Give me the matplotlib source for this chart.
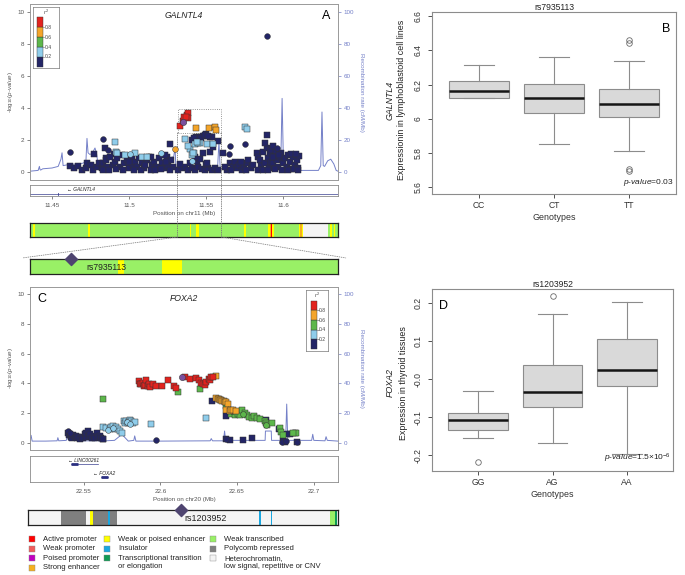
import numpy as np
import matplotlib.pyplot as plt
from matplotlib.patches import Rectangle, ConnectionPatch

plt.rcParams['font.family'] = ['Liberation Sans', 'DejaVu Sans']
plt.rcParams['mathtext.fontset'] = 'custom'
plt.rcParams['mathtext.it'] = 'Liberation Sans:italic'
plt.rcParams['mathtext.rm'] = 'Liberation Sans'

# ============================================================
# DATA - panel A (GALNTL4, chr11)
# ============================================================
a_navy_x = [11.4617, 11.4643, 11.4671, 11.4693, 11.4721, 11.4729, 11.4751, 11.4768, 11.4790, 11.4807,
            11.4773, 11.4844, 11.4850, 11.4903,
            11.4823, 11.4833, 11.4851, 11.4859, 11.4877, 11.4894, 11.4909, 11.4924, 11.4942, 11.4952,
            11.4968, 11.4985, 11.5002, 11.5017, 11.5024, 11.5039, 11.5050, 11.5067, 11.5082, 11.5097,
            11.5115, 11.5132, 11.5147, 11.5162, 11.5180, 11.5197, 11.5212, 11.5227, 11.5245, 11.5255,
            11.5271, 11.5284, 11.4830, 11.4870, 11.4915, 11.4960, 11.5000, 11.5030, 11.5075, 11.5105,
            11.5140, 11.5170, 11.5205, 11.5240, 11.5265, 11.5266, 11.5236, 11.5145,
            11.5320, 11.5342, 11.5364, 11.5385, 11.5407, 11.5429, 11.5450, 11.5472, 11.5494, 11.5515,
            11.5537, 11.5558, 11.5580, 11.5330, 11.5395, 11.5440, 11.5500, 11.5461, 11.5505, 11.5427,
            11.5483, 11.5525, 11.5545,
            11.5407, 11.5433, 11.5455, 11.5481, 11.5503, 11.5524, 11.5541, 11.5580, 11.5420, 11.5470,
            11.5492, 11.5515,
            11.5613, 11.5634, 11.5656, 11.5677, 11.5690, 11.5703, 11.5716, 11.5732, 11.5747, 11.5764,
            11.5775, 11.5790, 11.5807, 11.5620, 11.5665, 11.5725, 11.5760,
            11.5829, 11.5840, 11.5851, 11.5860, 11.5872, 11.5880, 11.5894, 11.5900, 11.5910, 11.5916,
            11.5925, 11.5937, 11.5945, 11.5959, 11.5970, 11.5981, 11.5990, 11.6002, 11.6012, 11.6024,
            11.6035, 11.6045, 11.6055, 11.6067, 11.6078, 11.6089, 11.6100, 11.6105, 11.5835, 11.5870,
            11.5905, 11.5950, 11.5995, 11.6030, 11.6070, 11.6095, 11.5898, 11.5885, 11.5920, 11.5955,
            11.5935, 11.5975, 11.6050, 11.6085, 11.5937]
a_navy_y = [0.40, 0.23, 0.40, 0.12, 0.23, 0.54, 0.44, 0.12, 0.33, 0.54,
            1.13, 1.48, 0.85, 1.10,
            0.23, 0.54, 0.75, 0.33, 0.96, 0.44, 0.65, 0.85, 0.33, 1.06,
            0.54, 0.75, 0.23, 0.96, 0.44, 0.65, 0.33, 0.85, 0.54, 0.23,
            0.75, 0.96, 0.44, 0.65, 0.33, 0.85, 0.54, 0.23, 0.96, 0.40,
            0.75, 0.33, 0.12, 0.15, 0.18, 0.12, 0.60, 0.15, 0.12, 0.45,
            0.15, 0.12, 0.20, 0.60, 0.12, 1.75, 1.06, 0.96,
            0.12, 0.23, 0.33, 0.10, 0.23, 0.12, 0.33, 0.17, 0.10, 0.27,
            0.12, 0.23, 0.10, 0.50, 0.55, 0.70, 0.50, 0.79, 0.54, 0.96,
            1.17, 1.27, 1.58,
            2.00, 2.17, 2.21, 2.25, 2.35, 2.21, 2.17, 1.96, 2.10, 2.10,
            2.30, 2.28,
            1.21, 0.12, 0.54, 0.33, 0.65, 0.23, 0.44, 0.12, 0.33, 0.54,
            0.75, 0.23, 0.44, 0.30, 0.15, 0.60, 0.15,
            1.17, 0.96, 0.75, 0.35, 1.27, 0.54, 1.48, 0.85, 0.23, 1.17,
            0.65, 0.54, 1.06, 0.75, 0.33, 0.96, 1.17, 0.54, 0.85, 0.33,
            1.06, 0.65, 0.17, 0.96, 0.44, 0.75, 0.23, 1.00, 0.12, 0.12,
            0.12, 0.17, 0.12, 0.12, 0.17, 0.12, 2.31, 1.80, 1.40, 1.30,
            0.95, 1.05, 1.10, 1.10, 1.65]
a_navy_circ_x = [11.4615, 11.4829, 11.4866, 11.5894, 11.5656, 11.5753, 11.5650, 11.5960]
a_navy_circ_y = [1.27, 2.06, 1.38, 8.52, 1.65, 1.75, 1.10, 1.50]
a_lblue_x = [11.4907, 11.4916, 11.4924, 11.4972, 11.5041, 11.5084, 11.5117, 11.5364, 11.5396, 11.5429,
             11.5461, 11.5504, 11.5548, 11.5424, 11.5407, 11.5418, 11.5450, 11.5753, 11.5764, 11.5380,
             11.5440]
a_lblue_y = [1.85, 1.27, 1.20, 1.06, 1.19, 0.96, 0.96, 2.04, 1.42, 1.75,
             1.79, 1.75, 1.75, 1.21, 1.06, 1.17, 1.79, 2.79, 2.67, 1.60,
             1.90]
a_lblue_circ_x = [11.5006, 11.5210, 11.5407]
a_lblue_circ_y = [1.10, 1.17, 0.70]
a_orange_x = [11.5435, 11.5522, 11.5558, 11.5565]
a_orange_y = [2.77, 2.77, 2.83, 2.63]
a_orange_circ_x = [11.5301]
a_orange_circ_y = [1.44]
a_red_x = [11.5331, 11.5348, 11.5359, 11.5374, 11.5381, 11.5385, 11.5370]
a_red_y = [2.88, 3.21, 3.42, 3.56, 3.67, 3.35, 3.45]
a_index_x, a_index_y = 11.5353, 3.15
a_rec_x = [11.4357, 11.4410, 11.4418, 11.4422, 11.4426, 11.4440, 11.4500, 11.4540, 11.4558, 11.4565,
           11.4572, 11.4600, 11.4660, 11.4700, 11.4720, 11.4727, 11.4734, 11.4745, 11.4760, 11.4779,
           11.4790, 11.4800, 11.4820, 11.4900, 11.5000, 11.5100, 11.5200, 11.5290, 11.5299, 11.5305,
           11.5400, 11.5500, 11.5575, 11.5584, 11.5592, 11.5700, 11.5900, 11.5975, 11.5985, 11.5994,
           11.6003, 11.6015, 11.6100, 11.6230, 11.6245, 11.6253, 11.6261, 11.6270, 11.6290, 11.6310,
           11.6330, 11.6345, 11.6357]
a_rec_y = [0.5, 1.0, 3.5, 1.5, 1.2, 2.0, 2.5, 3.5, 8.0, 12.0,
           4.0, 4.5, 5.0, 5.5, 6.5, 21.0, 12.0, 11.0, 11.5, 15.0,
           11.0, 4.0, 3.5, 4.0, 5.0, 6.0, 7.5, 9.5, 15.0, 1.5,
           1.5, 2.0, 2.5, 19.0, 2.0, 1.5, 1.0, 1.5, 4.0, 46.0,
           4.0, 1.0, 1.0, 1.0, 4.0, 37.5, 4.0, 3.5, 7.0, 8.0,
           5.0, 1.0, 0.5]
a_xlim = (11.4357, 11.6357)
a_zoom = (11.5315, 11.5600)
a_box_y = (2.44, 3.94)
a_gene = ['GALNTL4']
a_gene_start = [11.29]
a_gene_end = [11.643]
a_gene_label_x = [11.4597]
a_gene_exons = [11.4539]
# chromatin states, chr11
a_state_start = [11.4375, 11.4735, 11.5218, 11.5396, 11.5437, 11.5748, 11.5905, 11.5916, 11.5921,
                 11.6105, 11.6110, 11.6114, 11.6130, 11.6305, 11.6330]
a_state_end = [11.4388, 11.4745, 11.5222, 11.5402, 11.5456, 11.5758, 11.5940, 11.5930, 11.5926,
               11.6128, 11.6120, 11.6117, 11.6290, 11.6318, 11.6338]
a_state = ['Weak or poised enhancer', 'Weak or poised enhancer', 'Insulator', 'Weak or poised enhancer',
           'Weak or poised enhancer', 'Weak or poised enhancer', 'Weak or poised enhancer',
           'Strong enhancer', 'Active promoter', 'Weak or poised enhancer', 'Strong enhancer',
           'Active promoter', 'Heterochromatin', 'Weak or poised enhancer', 'Weak or poised enhancer']

# ============================================================
# DATA - panel C (FOXA2, chr20)
# ============================================================
c_navy_x = [22.5398, 22.5403, 22.5409, 22.5415, 22.5420, 22.5425, 22.5430, 22.5440, 22.5448, 22.5455,
            22.5463, 22.5475, 22.5485, 22.5495, 22.5507, 22.5512, 22.5517, 22.5528, 22.5533, 22.5539,
            22.5550, 22.5565, 22.5575, 22.5583, 22.5595, 22.5604, 22.5615, 22.5622, 22.5626,
            22.6339, 22.6430, 22.6430, 22.6452, 22.6539, 22.6600, 22.6688, 22.6773, 22.6813, 22.6845,
            22.6877, 22.6892, 22.6800, 22.6825]
c_navy_y = [0.67, 0.49, 0.56, 0.40, 0.45, 0.33, 0.49, 0.40, 0.45, 0.33,
            0.40, 0.27, 0.40, 0.33, 0.56, 0.40, 0.67, 0.78, 0.45, 0.56,
            0.33, 0.45, 0.33, 0.67, 0.40, 0.45, 0.33, 0.27, 0.22,
            2.79, 1.79, 0.22, 0.17, 0.17, 0.29, 1.52, 0.94, 0.05, 0.56,
            0.67, 0.04, 0.10, 0.60]
c_navy_circ_x = [22.5398, 22.5410, 22.5974, 22.6426, 22.6795, 22.6821, 22.6891]
c_navy_circ_y = [0.75, 0.62, 0.18, 0.27, 0.04, 0.10, 0.04]
c_lblue_x = [22.5626, 22.5643, 22.5669, 22.5680, 22.5691, 22.5700, 22.5709, 22.5724, 22.5739, 22.5746,
             22.5761, 22.5770, 22.5778, 22.5787, 22.5796, 22.5803, 22.5811, 22.5822, 22.5832, 22.5941,
             22.6295]
c_lblue_y = [1.07, 1.00, 0.94, 1.05, 1.12, 0.90, 1.05, 0.89, 0.78, 0.63,
             1.45, 1.35, 1.45, 1.30, 1.38, 1.50, 1.45, 1.29, 1.38, 1.23,
             1.63]
c_lblue_circ_x = [22.5655, 22.5690, 22.5780, 22.5800]
c_lblue_circ_y = [0.85, 1.00, 1.40, 1.25]
c_green_x = [22.5626, 22.6115, 22.6256, 22.6426, 22.6463, 22.6485, 22.6508, 22.6523, 22.6536, 22.6552,
             22.6563, 22.6580, 22.6595, 22.6610, 22.6628, 22.6649, 22.6682, 22.6688, 22.6693, 22.6732,
             22.6780, 22.6789, 22.6800, 22.6887, 22.6865]
c_green_y = [2.95, 3.41, 3.64, 2.50, 1.90, 1.85, 1.96, 1.83, 2.23, 2.00,
             1.83, 1.74, 1.67, 1.79, 1.67, 1.56, 1.45, 1.30, 1.16, 1.29,
             0.99, 0.71, 0.49, 0.67, 0.62]
c_green_circ_x = [22.6470, 22.6540, 22.6690]
c_green_circ_y = [2.10, 1.95, 1.20]
c_orange_x = [22.6360, 22.6365, 22.6375, 22.6382, 22.6390, 22.6397, 22.6405, 22.6413, 22.6420, 22.6430,
              22.6441, 22.6426, 22.6452, 22.6462, 22.6473, 22.6491]
c_orange_y = [4.51, 3.01, 2.95, 2.95, 2.90, 2.86, 2.80, 2.79, 2.75, 2.72,
              2.63, 2.19, 2.12, 2.19, 2.19, 2.12]
c_red_x = [22.5861, 22.5868, 22.5876, 22.5885, 22.5891, 22.5900, 22.5909, 22.5919, 22.5928, 22.5935,
           22.5952, 22.5974, 22.6011, 22.6050, 22.6087, 22.6100, 22.6158, 22.6195, 22.6234, 22.6252,
           22.6267, 22.6280, 22.6289, 22.6300, 22.6317, 22.6325, 22.6332, 22.6343]
c_red_y = [4.13, 3.95, 3.97, 4.05, 3.84, 3.90, 4.24, 3.84, 3.95, 3.75,
           3.97, 3.84, 3.84, 4.20, 3.84, 3.68, 4.40, 4.29, 4.33, 4.20,
           4.02, 3.95, 3.90, 4.10, 4.29, 4.20, 4.40, 4.46]
c_index_x, c_index_y = 22.6139, 4.40
c_rec_x = [22.5148, 22.5155, 22.5162, 22.5250, 22.5325, 22.5330, 22.5336, 22.5385, 22.5392, 22.5400,
           22.5450, 22.5454, 22.5460, 22.5585, 22.5591, 22.5597, 22.5700, 22.5742, 22.5748, 22.5790,
           22.5826, 22.5832, 22.5840, 22.6000, 22.6325, 22.6332, 22.6340, 22.6412, 22.6419, 22.6426,
           22.6500, 22.6684, 22.6686, 22.6724, 22.6726, 22.6818, 22.6825, 22.6832, 22.6900, 22.6988,
           22.6995, 22.7002, 22.7075, 22.7082, 22.7090, 22.7160]
c_rec_y = [1.0, 4.9, 1.0, 1.0, 1.2, 3.3, 1.2, 1.5, 4.5, 1.5,
           1.5, 2.7, 1.2, 1.2, 2.0, 1.0, 1.5, 5.0, 5.6, 1.0,
           1.5, 4.5, 1.0, 1.0, 1.2, 2.7, 1.2, 1.2, 7.8, 1.5,
           1.5, 1.5, 7.8, 7.8, 1.5, 1.5, 26.0, 1.5, 1.5, 1.5,
           5.6, 1.5, 1.2, 4.0, 1.5, 1.0]
c_xlim = (22.5148, 22.7160)
c_genes = ['LINC00261', 'FOXA2']
c_gene_start = [22.5413, 22.5615]
c_gene_thick_end = [22.5463, 22.5658]
c_gene_end = [22.5593, 22.5658]
c_gene_label_x = [22.5396, 22.5559]
c_state_start = [22.5363, 22.5550, 22.5572, 22.5666, 22.6650, 22.6724, 22.7110, 22.7141]
c_state_end = [22.5526, 22.5567, 22.5724, 22.5680, 22.6658, 22.6732, 22.7141, 22.7155]
c_state = ['Polycomb repressed', 'Weak or poised enhancer', 'Polycomb repressed', 'Insulator',
           'Insulator', 'Insulator', 'Weak transcribed', 'Transcriptional transition']

# ============================================================
# DATA - boxplots B and D
# ============================================================
b_geno = ['CC', 'CT', 'TT']
b_q1 = [6.121, 6.037, 6.011]
b_med = [6.161, 6.125, 6.089]
b_q3 = [6.221, 6.207, 6.175]
b_lo = [6.121, 5.856, 5.810]
b_hi = [6.313, 6.364, 6.337]
b_out = [[], [], [6.445, 6.462, 5.695, 5.705]]

d_geno = ['GG', 'AG', 'AA']
d_q1 = [-0.133, -0.072, -0.019]
d_med = [-0.107, -0.035, 0.024]
d_q3 = [-0.090, 0.038, 0.107]
d_lo = [-0.154, -0.169, -0.197]
d_hi = [-0.032, 0.173, 0.204]
d_out = [[-0.218], [0.218], []]

# ============================================================
# STYLE
# ============================================================
r2_cols = ['#232566', '#8FCDEB', '#5DB74B', '#F4A52A', '#E2231E']
index_col = '#7A4F9E'
rec_col = '#7480C8'
frame_col = '#9A9A9A'
state_names = ['Active promoter', 'Weak promoter', 'Poised promoter', 'Strong enhancer',
               'Weak or poised enhancer', 'Insulator', 'Transcriptional transition',
               'Weak transcribed', 'Polycomb repressed', 'Heterochromatin']
state_cols = ['#FF0000', '#F25C5C', '#C000C0', '#F5B01E', '#FFFF00', '#1AA7E0', '#109A55',
              '#99F066', '#7F7F7F', '#F4F4F4']
state_key = ['Active promoter', 'Weak promoter', 'Poised promoter', 'Strong enhancer',
             'Weak or poised enhancer', 'Insulator', 'Transcriptional transition\nor elongation',
             'Weak transcribed', 'Polycomb repressed', 'Heterochromatin,\nlow signal, repetitive or CNV']
state_color = dict(zip(state_names, state_cols))

W, H = 685, 575
fig = plt.figure(figsize=(W / 100, H / 100), dpi=100)


def px_box(l, t, r, b):
    return [l / W, 1 - b / H, (r - l) / W, (b - t) / H]


def style_frame(ax, col=frame_col, lw=0.6):
    for s in ax.spines.values():
        s.set_color(col)
        s.set_linewidth(lw)


def locus(ax, groups, index_xy, rec_x, rec_y, xlim, title, title_y):
    ax2 = ax.twinx()
    ax2.plot(rec_x, rec_y, color=rec_col, lw=0.7)
    ax2.set_ylim(-5, 105)
    ax2.set_yticks([0, 20, 40, 60, 80, 100])
    ax2.tick_params(axis='y', labelsize=4.5, colors=rec_col, length=2, width=0.5, pad=2)
    ax2.set_ylabel('Recombination rate (cM/Mb)', fontsize=4.5, color=rec_col, rotation=270, labelpad=7)
    ax.set_zorder(ax2.get_zorder() + 1)
    ax.patch.set_visible(False)
    for gx, gy, mk, col in groups:
        ax.scatter(gx, gy, s=17, marker=mk, c=col, edgecolors='#333333', linewidths=0.35, zorder=3)
    ax.scatter([index_xy[0]], [index_xy[1]], s=20, marker='o', c=index_col,
               edgecolors='#333333', linewidths=0.35, zorder=4)
    ax.set_xlim(xlim)
    ax2.set_xlim(xlim)
    ax.set_ylim(-0.5, 10.5)
    ax.set_yticks([0, 2, 4, 6, 8, 10])
    ax.set_xticks([])
    ax.tick_params(axis='y', labelsize=4.5, colors='#555555', length=2, width=0.5, pad=2)
    ax.set_ylabel(r'-log$_{10}$($\it{p}$-$\it{value}$)', fontsize=4.5, color='#555555', labelpad=2)
    ax.text(0.5, title_y, title, transform=ax.transAxes, fontsize=6.2, style='italic',
            ha='center', va='center', color='#222222')
    style_frame(ax)
    style_frame(ax2)


def r2_key(ax):
    ax.set_xlim(0, 1)
    ax.set_ylim(0, 1)
    ax.set_xticks([])
    ax.set_yticks([])
    style_frame(ax, '#777777', 0.5)


def draw_states(ax, starts, ends, states, background, xlim):
    ax.axvspan(xlim[0], xlim[1], color=state_color[background], lw=0)
    for s, e, st in zip(starts, ends, states):
        ax.axvspan(s, e, color=state_color[st], lw=0)
    ax.set_xlim(xlim)
    ax.set_ylim(0, 1)
    ax.set_xticks([])
    ax.set_yticks([])
    style_frame(ax, '#222222', 0.9)


# ============================================================
# PANEL A
# ============================================================
axA = fig.add_axes(px_box(30, 4, 338, 180))
groups_a = [(a_navy_x, a_navy_y, 's', r2_cols[0]), (a_navy_circ_x, a_navy_circ_y, 'o', r2_cols[0]),
            (a_lblue_x, a_lblue_y, 's', r2_cols[1]), (a_lblue_circ_x, a_lblue_circ_y, 'o', r2_cols[1]),
            (a_orange_x, a_orange_y, 's', r2_cols[3]), (a_orange_circ_x, a_orange_circ_y, 'o', r2_cols[3]),
            (a_red_x, a_red_y, 's', r2_cols[4])]
locus(axA, groups_a, (a_index_x, a_index_y), a_rec_x, a_rec_y, a_xlim, 'GALNTL4', 0.935)
axA.add_patch(Rectangle((a_zoom[0], a_box_y[0]), a_zoom[1] - a_zoom[0], a_box_y[1] - a_box_y[0],
                        fill=False, ls=':', lw=0.6, ec='#777777', zorder=2))
axA.text(0.975, 0.965, 'A', transform=axA.transAxes, ha='right', va='top', fontsize=9)

keyA = fig.add_axes(px_box(33, 7, 59, 68))
r2_key(keyA)
keyA.bar([0.255] * 5, [0.162] * 5, bottom=[0.02 + 0.162 * i for i in range(5)], width=0.23,
         color=r2_cols, edgecolor='#333333', linewidth=0.3)
for i, lab in enumerate(['0.2', '0.4', '0.6', '0.8']):
    yy = 0.02 + 0.162 * (i + 1)
    keyA.plot([0.37, 0.42], [yy, yy], color='#555555', lw=0.4)
    keyA.text(0.45, yy, lab, fontsize=3.6, va='center', color='#444444')
keyA.text(0.5, 0.92, r'$\it{r}^2$', fontsize=4, ha='center', va='center', color='#444444')

geneA = fig.add_axes(px_box(30, 185, 338, 196))
geneA.set_xlim(a_xlim)
geneA.set_ylim(0, 1)
geneA.set_yticks([])
style_frame(geneA, '#8A8A8A', 0.6)
for g, s, e, lx in zip(a_gene, a_gene_start, a_gene_end, a_gene_label_x):
    geneA.plot([s, e], [0.15, 0.15], color='#3A3F8F', lw=0.5)
    geneA.text(lx, 0.6, '\u2190 ' + g, fontsize=3.5, style='italic', va='center', color='#222222')
for ex in a_gene_exons:
    geneA.plot([ex, ex], [0.05, 0.3], color='#3A3F8F', lw=0.6)
geneA.set_xticks([11.45, 11.5, 11.55, 11.6])
geneA.set_xticklabels(['11.45', '11.5', '11.55', '11.6'])
geneA.tick_params(axis='x', labelsize=4.5, colors='#555555', length=2, width=0.5, pad=3)
geneA.set_xlabel('Position on chr11 (Mb)', fontsize=4.5, color='#555555', labelpad=2)

barA = fig.add_axes(px_box(30, 223, 338, 237))
draw_states(barA, a_state_start, a_state_end, a_state, 'Weak transcribed', a_xlim)

zoomA = fig.add_axes(px_box(30, 259, 338, 274))
draw_states(zoomA, a_state_start, a_state_end, a_state, 'Weak transcribed', a_zoom)
zoomA.scatter([a_index_x], [1.0], marker='D', s=38, c='#4E4470', zorder=5, clip_on=False)
zoomA.text(a_index_x + 0.0014, 0.45, 'rs7935113', fontsize=6.2, va='center', color='#222222')

for xv in a_zoom:
    fig.add_artist(ConnectionPatch(xyA=(xv, a_box_y[0]), coordsA=axA.transData,
                                   xyB=(xv, 0), coordsB=barA.transData,
                                   ls=':', lw=0.6, color='#777777'))
fig.add_artist(ConnectionPatch(xyA=(a_zoom[0], 0), coordsA=barA.transData,
                               xyB=(-0.025, 1.07), coordsB=zoomA.transAxes,
                               ls=':', lw=0.6, color='#888888'))
fig.add_artist(ConnectionPatch(xyA=(a_zoom[1], 0), coordsA=barA.transData,
                               xyB=(1.025, 1.07), coordsB=zoomA.transAxes,
                               ls=':', lw=0.6, color='#888888'))

# ============================================================
# PANEL C
# ============================================================
axC = fig.add_axes(px_box(30, 287, 338, 450))
groups_c = [(c_navy_x, c_navy_y, 's', r2_cols[0]), (c_navy_circ_x, c_navy_circ_y, 'o', r2_cols[0]),
            (c_lblue_x, c_lblue_y, 's', r2_cols[1]), (c_lblue_circ_x, c_lblue_circ_y, 'o', r2_cols[1]),
            (c_green_x, c_green_y, 's', r2_cols[2]), (c_green_circ_x, c_green_circ_y, 'o', r2_cols[2]),
            (c_orange_x, c_orange_y, 's', r2_cols[3]), (c_red_x, c_red_y, 's', r2_cols[4])]
locus(axC, groups_c, (c_index_x, c_index_y), c_rec_x, c_rec_y, c_xlim, 'FOXA2', 0.93)
axC.text(0.025, 0.965, 'C', transform=axC.transAxes, ha='left', va='top', fontsize=9)

keyC = fig.add_axes(px_box(306, 290, 328, 351))
r2_key(keyC)
keyC.bar([0.36] * 5, [0.156] * 5, bottom=[0.04 + 0.156 * i for i in range(5)], width=0.3,
         color=r2_cols, edgecolor='#333333', linewidth=0.3)
for i, lab in enumerate(['0.2', '0.4', '0.6', '0.8']):
    yy = 0.04 + 0.156 * (i + 1)
    keyC.plot([0.51, 0.58], [yy, yy], color='#555555', lw=0.4)
    keyC.text(0.6, yy, lab, fontsize=3.6, va='center', color='#444444')
keyC.text(0.5, 0.92, r'$\it{r}^2$', fontsize=4, ha='center', va='center', color='#444444')

geneC = fig.add_axes(px_box(30, 456, 338, 482))
geneC.set_xlim(c_xlim)
geneC.set_ylim(0, 1)
geneC.set_yticks([])
style_frame(geneC, '#8A8A8A', 0.6)
for i, (g, s, te, e, lx) in enumerate(zip(c_genes, c_gene_start, c_gene_thick_end, c_gene_end,
                                          c_gene_label_x)):
    yb = [0.68, 0.19][i]
    geneC.plot([s, e], [yb, yb], color='#3A3F8F', lw=0.5)
    geneC.plot([s, te], [yb, yb], color='#2A2F80', lw=2.0, solid_capstyle='butt')
    geneC.text(lx, yb + 0.14, '\u2190 ' + g, fontsize=3.5, style='italic', va='center', color='#222222')
geneC.set_xticks([22.55, 22.6, 22.65, 22.7])
geneC.set_xticklabels(['22.55', '22.6', '22.65', '22.7'])
geneC.tick_params(axis='x', labelsize=4.5, colors='#555555', length=2, width=0.5, pad=3)
geneC.set_xlabel('Position on chr20 (Mb)', fontsize=4.5, color='#555555', labelpad=2)

barC = fig.add_axes(px_box(28, 510, 338, 525))
draw_states(barC, c_state_start, c_state_end, c_state, 'Heterochromatin', c_xlim)
barC.scatter([c_index_x], [1.0], marker='D', s=38, c='#4E4470', zorder=5, clip_on=False)
barC.text(c_index_x + 0.0026, 0.42, 'rs1203952', fontsize=6.4, va='center', color='#222222')

# chromatin state key
axK = fig.add_axes(px_box(25, 533, 345, 575))
axK.set_xlim(25, 345)
axK.set_ylim(575, 533)
axK.axis('off')
key_col = [0, 0, 0, 0, 1, 1, 1, 2, 2, 2]
key_row = [0, 1, 2, 3, 0, 1, 2, 0, 1, 2]
col_x = [32, 107, 213]
row_y = [539, 548.5, 558, 567.5]
for name, lab, kc, kr in zip(state_names, state_key, key_col, key_row):
    x0, y0 = col_x[kc], row_y[kr]
    axK.add_patch(Rectangle((x0 - 3, y0 - 3), 6, 6, fc=state_color[name], ec='#888888', lw=0.3))
    axK.text(x0 + 11, y0 - 3.4, lab, fontsize=5.5, va='top', ha='left', color='#222222',
             linespacing=1.2)

# ============================================================
# BOXPLOTS
# ============================================================


def boxpanel(ax, q1, med, q3, lo, hi, out, labels, ylim, yticks, yticklabels):
    stats = [dict(q1=a, med=m, q3=b, whislo=l, whishi=h, fliers=f)
             for a, m, b, l, h, f in zip(q1, med, q3, lo, hi, out)]
    ax.bxp(stats, positions=[1, 2, 3], widths=0.8, patch_artist=True,
           boxprops=dict(facecolor='#D9D9D9', edgecolor='#8C8C8C', linewidth=0.8),
           medianprops=dict(color='#151515', linewidth=1.8),
           whiskerprops=dict(color='#8C8C8C', linewidth=0.8),
           capprops=dict(color='#8C8C8C', linewidth=0.8),
           flierprops=dict(marker='o', markerfacecolor='none', markeredgecolor='#6A6A6A',
                           markersize=4, markeredgewidth=0.6))
    ax.set_xlim(0.38, 3.62)
    ax.set_ylim(ylim)
    ax.set_xticks([1, 2, 3])
    ax.set_xticklabels(labels)
    ax.set_yticks(yticks)
    ax.set_yticklabels(yticklabels, rotation=90, va='center')
    ax.tick_params(labelsize=6.2, colors='#333333', length=3, width=0.6)
    ax.tick_params(axis='x', pad=2)
    ax.set_xlabel('Genotypes', fontsize=6.4, color='#333333', labelpad=2)
    style_frame(ax, '#8C8C8C', 0.8)


axB = fig.add_axes(px_box(432, 12, 676, 194))
boxpanel(axB, b_q1, b_med, b_q3, b_lo, b_hi, b_out, b_geno, (5.561, 6.625),
         [5.6, 5.8, 6.0, 6.2, 6.4, 6.6], ['5.6', '5.8', '6', '6.2', '6.4', '6.6'])
axB.set_title('rs7935113', fontsize=6.2, pad=1.5, color='#222222')
axB.text(0.975, 0.94, 'B', transform=axB.transAxes, ha='right', va='top', fontsize=9)
axB.text(0.99, 0.035, r'$\it{p}$-$\it{value}$=0.03', transform=axB.transAxes, ha='right', va='bottom',
         fontsize=6, color='#222222')
fig.text(390 / W, 1 - 100 / H, 'GALNTL4', rotation=90, style='italic', fontsize=6.4,
         ha='center', va='center', color='#222222')
fig.text(402 / W, 1 - 100 / H, 'Expressionin in lymphoblastoid cell lines', rotation=90, fontsize=6.4,
         ha='center', va='center', color='#222222')

axD = fig.add_axes(px_box(432, 289, 673, 471))
boxpanel(axD, d_q1, d_med, d_q3, d_lo, d_hi, d_out, d_geno, (-0.242, 0.2377),
         [-0.2, -0.1, 0.0, 0.1, 0.2], ['-0.2', '-0.1', '-0.0', '0.1', '0.2'])
axD.set_title('rs1203952', fontsize=6.2, pad=1.5, color='#222222')
axD.text(0.03, 0.94, 'D', transform=axD.transAxes, ha='left', va='top', fontsize=9)
axD.text(0.99, 0.035, r'$\it{p}$-$\it{value}$=1.5×10$^{-6}$', transform=axD.transAxes, ha='right',
         va='bottom', fontsize=6, color='#222222')
fig.text(390 / W, 1 - 383 / H, 'FOXA2', rotation=90, style='italic', fontsize=6.4,
         ha='center', va='center', color='#222222')
fig.text(403 / W, 1 - 383 / H, 'Expression in thyroid tissues', rotation=90, fontsize=6.4,
         ha='center', va='center', color='#222222')

fig.savefig('out.png', dpi=100)
